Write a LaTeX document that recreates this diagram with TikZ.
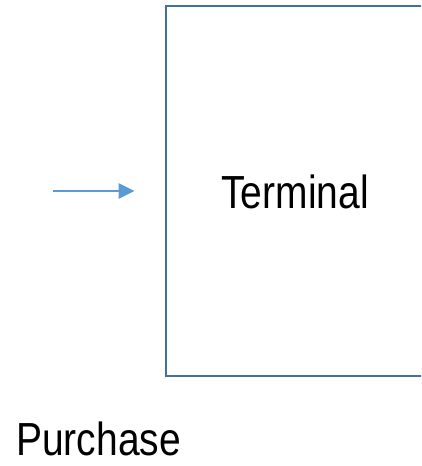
\documentclass[tikz,border=0pt]{standalone}
\usepackage{fontspec}
\setmainfont{Liberation Sans}[FakeStretch=0.84]
\usetikzlibrary{arrows.meta, positioning, calc}
\definecolor{boxblue}{HTML}{41719C}
\definecolor{arrowblue}{HTML}{5B9BD5}

\begin{document}
\begin{tikzpicture}[x=0.025cm, y=-0.025cm,
  block/.style={rectangle, draw=boxblue, line width=1.9pt, minimum width=7cm,
    minimum height=9.25cm, inner sep=0pt},
  label/.style={font=\fontsize{33}{40}\selectfont, inner sep=0pt},
  arr/.style={-{Triangle[length=0.4cm, width=0.375cm]}, line width=2pt, arrowblue},
]
  \useasboundingbox (0,0) rectangle (421,466);
  \clip (0,0) rectangle (421,466);
  \node[block] (frame) at (306,191) {};
  \node[label] (term) at (295,192) {Terminal};
  \node[label, anchor=base west] (buy) at (16,455) {Purchase};
  \coordinate (src) at (53,191);
  \draw[arr] (src) -- ([xshift=-0.75cm]frame.west);
\end{tikzpicture}
\end{document}
